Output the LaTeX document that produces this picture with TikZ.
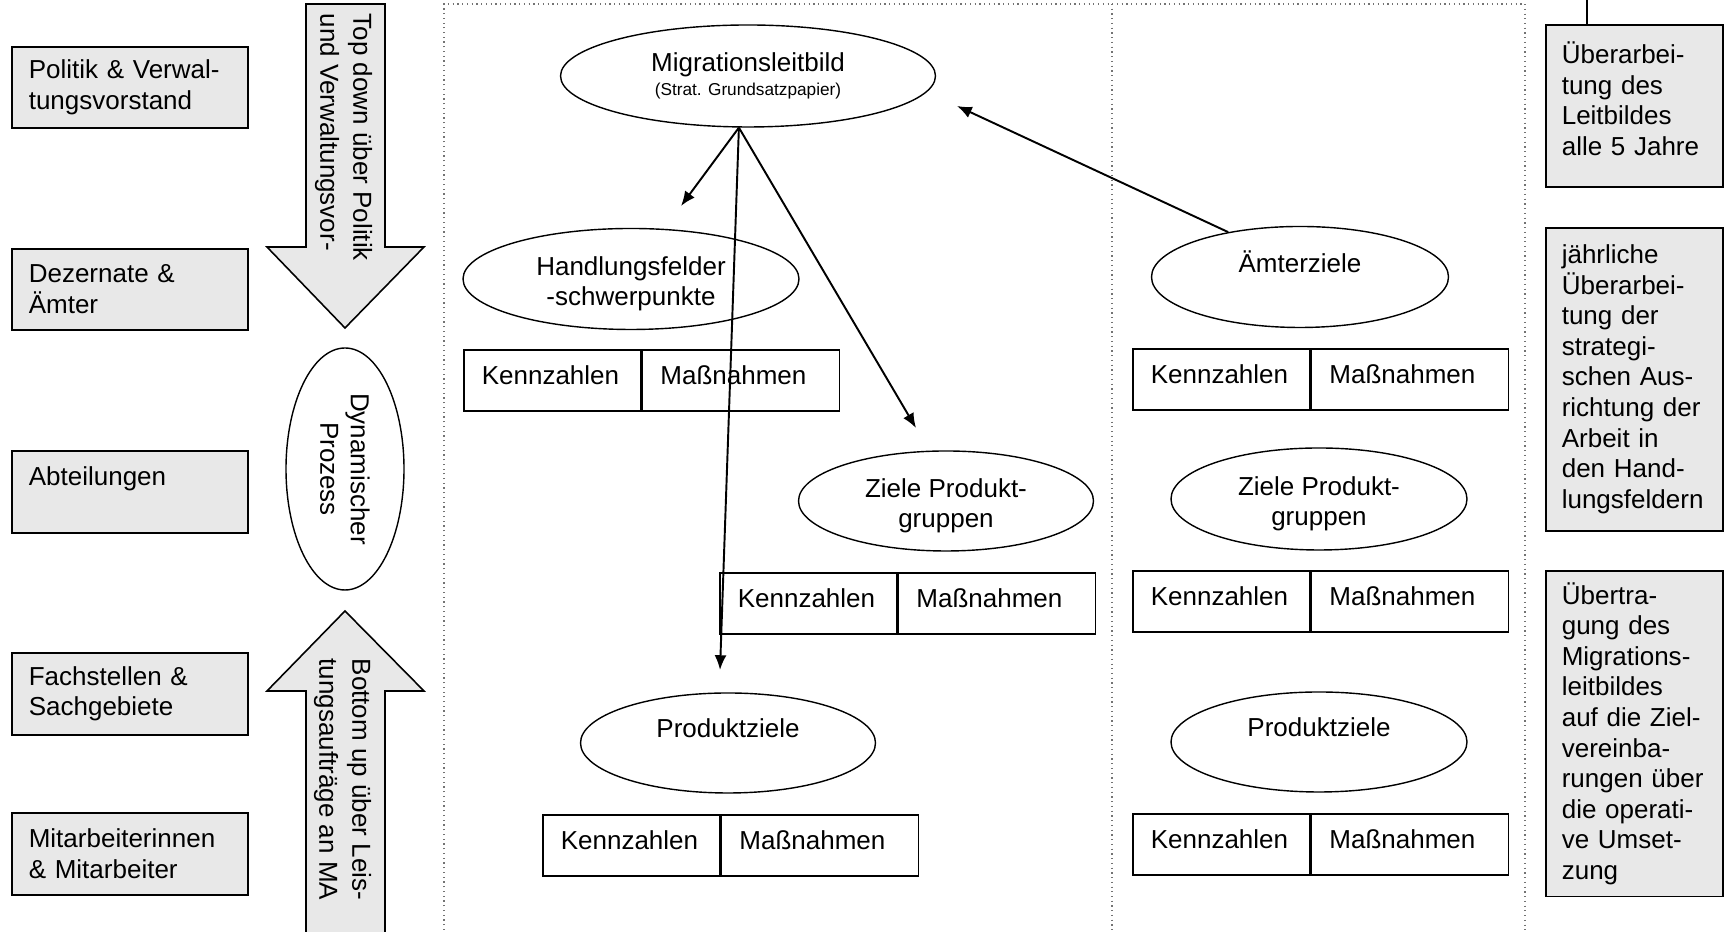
\documentclass[tikz,border=0pt]{standalone}
\usepackage{fontspec}
\setmainfont{Liberation Sans}
\usetikzlibrary{arrows.meta}
\usetikzlibrary{shapes.geometric}
\colorlet{boxgray}{black!9}
\colorlet{framegray}{black!55}
\tikzset{>={Latex[length=4.2pt,width=3.4pt]}}
\tikzset{
  graybox/.style={draw,fill=boxgray,anchor=north west,align=left,
                  inner xsep=1.7mm,line width=0.45pt},
  goal/.style={draw,ellipse,align=center,inner sep=0pt},
  kzcell/.style={draw,anchor=north west,align=left,minimum height=6.1mm,
                 inner xsep=1.8mm,text height=1.9mm,text depth=1.0mm,
                 line width=0.45pt},
  arrowtext/.style={rotate=-90,anchor=north west,align=left,inner sep=0pt,
                    font=\fontsize{7.4}{9.4}\selectfont},
  dotframe/.style={densely dotted,framegray,line width=0.35pt},
  link/.style={->,line width=0.55pt},
}
\newcommand\smallfont{\fontsize{4.9}{6}\selectfont}
\newcommand\topgap{\rule{0pt}{2.8mm}}   % pushes two-line labels down a bit
\newcommand\kennbox[2]{%
  \node[kzcell,text width=14.1mm] (#1k) at (#2) {Kennzahlen};
  \node[kzcell,anchor=west,text width=16.1mm] (#1m) at (#1k.east) {Maßnahmen};
}

\begin{document}
\begin{tikzpicture}[x=1mm,y=-1mm,line width=0.4pt,font=\fontsize{7.4}{8.7}\selectfont]
  \path[use as bounding box,fill=white] (0,0) rectangle (172.9,93.7);

  % FRAME
  \draw[dotframe] (44.4,93.0) -- (44.4,0.4) -- (152.5,0.4) -- (152.5,93.0);
  \draw[dotframe] (111.2,0.4) -- (111.2,93.0);

  % LEVELS
  \node[graybox,text width=20.2mm,minimum height=8.1mm] (pol)  at (1.1,4.6)  {Politik \& Verwal-\\tungsvorstand};
  \node[graybox,text width=20.2mm,minimum height=8.1mm] (dez)  at (1.1,24.8) {Dezernate \&\\Ämter};
  \node[graybox,text width=20.2mm,minimum height=8.2mm] (abt)  at (1.1,45.0) {Abteilungen\\~};
  \node[graybox,text width=20.2mm,minimum height=8.2mm] (fach) at (1.1,65.2) {Fachstellen \&\\Sachgebiete};
  \node[graybox,text width=20.2mm,minimum height=8.2mm] (mit)  at (1.1,81.2) {Mitarbeiterinnen\\\& Mitarbeiter};

  % BLOCK ARROWS
  \filldraw[fill=boxgray,line width=0.45pt] (30.6,0.4) -- (38.5,0.4) -- (38.5,24.7) -- (42.4,24.7)
    -- (34.5,32.8) -- (26.7,24.7) -- (30.6,24.7) -- cycle;
  \path[fill=boxgray,draw,line width=0.45pt] (30.6,93.2) -- (30.6,69.1) -- (26.7,69.1) -- (34.5,61.1)
    -- (42.4,69.1) -- (38.5,69.1) -- (38.5,93.2);
  \node[arrowtext] (topdown)  at (37.3,1.3)  {Top down über Politik\\und Verwaltungsvor-};
  \node[arrowtext] (bottomup) at (37.2,65.8) {Bottom up über Leis-\\tungsaufträge an MA};
  \node[goal,rotate=-90,minimum width=24.2mm,minimum height=11.8mm] (dyn) at (34.5,46.9) {Dynamischer\\Prozess};

  % GOALS
  \node[goal,minimum width=37.5mm,minimum height=10.2mm] (mig)  at (74.8,7.6)  {Migrationsleitbild\\[-1.9pt]{\smallfont (Strat. Grundsatzpapier)}};
  \node[goal,minimum width=33.6mm,minimum height=10.1mm] (hand) at (63.1,27.9) {\topgap Handlungsfelder\\-schwerpunkte};
  \node[goal,minimum width=29.5mm,minimum height=10.0mm] (zpl)  at (94.6,50.1) {\topgap Ziele Produkt-\\gruppen};
  \node[goal,minimum width=29.5mm,minimum height=10.0mm] (ppl)  at (72.8,74.3) {Produktziele\\~};
  \node[goal,minimum width=29.7mm,minimum height=10.1mm] (aemt) at (130.0,27.7) {Ämterziele\\~};
  \node[goal,minimum width=29.6mm,minimum height=10.2mm] (zpr)  at (131.9,49.9) {\topgap Ziele Produkt-\\gruppen};
  \node[goal,minimum width=29.6mm,minimum height=10.0mm] (ppr)  at (131.9,74.2) {Produktziele\\~};

  % KENNZAHLEN
  \kennbox{hf}{46.3,34.9}
  \kennbox{zl}{71.9,57.2}
  \kennbox{pl}{54.2,81.4}
  \kennbox{am}{113.2,34.8}
  \kennbox{zr}{113.2,57.0}
  \kennbox{pr}{113.2,81.3}

  % CONNECTIONS
  \coordinate (hfend) at (68.1,20.6);
  \coordinate (zlend) at (91.6,42.8);
  \coordinate (plend) at (72.0,67.0);
  \coordinate (migend) at (95.7,10.6);
  \draw[link] (mig.260) -- (hfend);
  \draw[link] (mig.260) -- (zlend);
  \draw[link] (mig.260) -- (plend);
  \draw[link] (aemt.148) -- (migend);

  % REVIEW
  \node[graybox,inner xsep=1.6mm,text width=14.5mm,minimum height=16.2mm] (ueb1) at (154.5,2.4)
    {Überarbei-\\tung des\\Leitbildes\\alle 5 Jahre\\[-1.6mm]~};
  \node[graybox,inner xsep=1.6mm,text width=14.5mm,minimum height=30.3mm] (ueb2) at (154.5,22.7)
    {jährliche\\Überarbei-\\tung der\\strategi-\\schen Aus-\\richtung der\\Arbeit in\\den Hand-\\lungsfeldern};
  \node[graybox,inner xsep=1.6mm,text width=14.5mm,minimum height=32.4mm] (ueb3) at (154.5,57.0)
    {Übertra-\\gung des\\Migrations-\\leitbildes\\auf die Ziel-\\vereinba-\\rungen über\\die operati-\\ve Umset-\\zung};
  \coordinate (uebtop) at (158.7,0);
  \draw[line width=0.45pt] (uebtop) -- (uebtop |- ueb1.north);
\end{tikzpicture}
\end{document}
